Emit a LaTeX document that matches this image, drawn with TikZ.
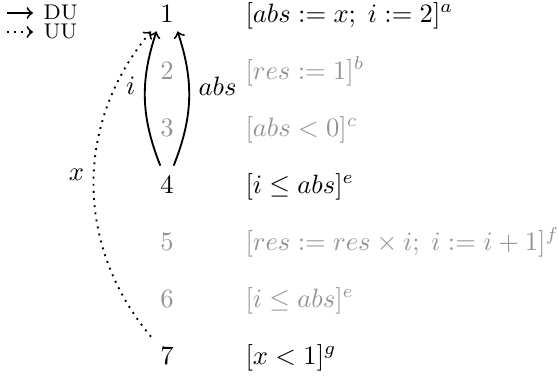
\documentclass[tikz,border=0pt]{standalone}
\begin{document}
\begin{tikzpicture}[x=0.3767pt,y=-0.3767pt,
  num/.style={anchor=base},
  gnum/.style={num,text=black!42},
  stmt/.style={anchor=base west,inner sep=0pt},
  gstmt/.style={stmt,text=black!42},
  du/.style={->,line width=0.7pt},
  uu/.style={->,line width=0.7pt,dotted},
  legend/.style={anchor=base west,inner sep=0pt,font=\footnotesize}]
\useasboundingbox (0,0) rectangle (558,378);
% row numbers
\node[num]  (n1) at (167,22)  {1};
\node[gnum] (n2) at (167,79)  {2};
\node[gnum] (n3) at (167,136) {3};
\node[num]  (n4) at (167,193) {4};
\node[gnum] (n5) at (167,250) {5};
\node[gnum] (n6) at (167,307) {6};
\node[num]  (n7) at (167,364) {7};
% statements
\node[stmt]  (s1) at (245,22)  {$[abs := x;\; i := 2]^a$};
\node[gstmt] (s2) at (245,79)  {$[res := 1]^b$};
\node[gstmt] (s3) at (245,136) {$[abs < 0]^c$};
\node[stmt]  (s4) at (245,193) {$[i \le abs]^e$};
\node[gstmt] (s5) at (245,250) {$[res := res \times i;\; i := i + 1]^f$};
\node[gstmt] (s6) at (245,307) {$[i \le abs]^e$};
\node[stmt]  (s7) at (245,364) {$[x < 1]^g$};
% dependence arcs
\draw[du] (n4.110) to[bend left=20] node[pos=0.6,left] (li) {$i$} (n1.240);
\draw[du] (n4.70) to[bend right=20] node[pos=0.6,right] (la) {$abs$} (n1.300);
\draw[uu] (n7.north west) to[bend left=40] node[pos=0.53,left] (lx) {$x$} (n1.south west);
% legend
\coordinate (d0) at (7,13);
\coordinate (d1) at (33,13);
\coordinate (u0) at (7,32);
\coordinate (u1) at (33,32);
\draw[du] (d0) -- (d1);
\draw[uu] (u0) -- (u1);
\node[legend] (ldu) at (43,19) {DU};
\node[legend] (luu) at (43,38) {UU};
\end{tikzpicture}
\end{document}
